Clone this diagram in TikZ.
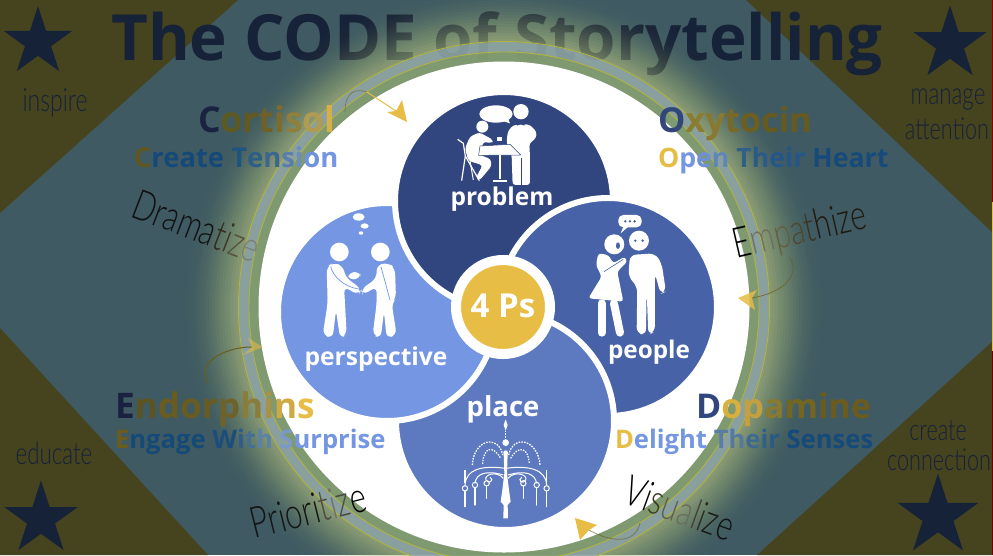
\documentclass[tikz,border=0pt]{standalone}
\usepackage{fontspec}
\setmainfont{Open Sans}
\newfontfamily\hand{Lato Light}[FakeStretch=0.72]
\usetikzlibrary{shapes.geometric}
\definecolor{teal0}{HTML}{3F5A62}
\definecolor{olive0}{HTML}{46431F}
\definecolor{cprob}{HTML}{31467F}
\definecolor{cpeop}{HTML}{4762A7}
\definecolor{cplac}{HTML}{5D7AC0}
\definecolor{cpers}{HTML}{7496E3}
\definecolor{cgold}{HTML}{E7BD45}
\definecolor{navyd}{HTML}{162238}
\definecolor{golddk}{HTML}{6B5C1E}
\definecolor{bluedk}{HTML}{164A7A}
\definecolor{ringg}{HTML}{8BA3AB}
\definecolor{ringgr}{HTML}{7F9A70}
\definecolor{ringy}{HTML}{B0B440}
\definecolor{glowc}{HTML}{B4C488}
\newcommand{\cw}[2]{\textcolor[HTML]{#1}{#2}}
\tikzset{
  titlefont/.style={font=\bfseries\fontsize{63.7}{63.7}\selectfont},
  headtxt/.style={font=\bfseries\fontsize{#1}{#1}\selectfont,anchor=base west,inner sep=0pt,outer sep=0pt},
  handtxt/.style={font=\hand\fontsize{#1}{#1}\selectfont,inner sep=0pt},
  pcircle/.style={circle,fill=#1,draw=white,line width=6pt,minimum size=218pt,inner sep=0pt,outer sep=0pt},
  plabel/.style={text=white,font=\bfseries\fontsize{#1}{#1}\selectfont,anchor=base,inner sep=0pt},
  starnode/.style={star,star points=5,star point ratio=2.618,fill=navyd,draw=none,inner sep=0pt,minimum size=#1},
  limb/.style={draw=white,line cap=round,line join=round,line width=#1},
  gtail/.style={draw=#1,line width=.8pt,line cap=round},
}
\begin{document}
\begin{tikzpicture}[x=1pt,y=-1pt]
\useasboundingbox (0,0) rectangle (993,555);
\fill[teal0] (0,0) rectangle (993,555);
\fill[olive0] (0,0) -- (238,0) -- (0,213) -- cycle;
\fill[olive0] (746,0) -- (993,0) -- (993,233) -- cycle;
\fill[olive0] (0,328) -- (208,555) -- (0,555) -- cycle;
\fill[olive0] (993,341) -- (993,555) -- (757,555) -- cycle;
\fill[red!55!black] (992,0) rectangle (993,202);
\fill[cgold] (992,202) rectangle (993,351);
\fill[red!45!black] (992,351) rectangle (993,555);
\coordinate (ctr) at (504,307);
% glow below the title
\foreach \r in {334,331,...,266} {
  \pgfmathsetmacro{\al}{0.32*(0.005+0.125*((334-\r)/68)^1.6)}
  \fill[glowc,opacity=\al] (ctr) circle[radius=\r];
}
\node[starnode=72pt] (star1) at (38,42) {};
\node[starnode=77pt] (star2) at (950,44) {};
\node[starnode=77pt] (star3) at (41,519) {};
\node[starnode=85pt] (star4) at (938,516) {};
\node[titlefont,anchor=base west,inner sep=0pt,text=navyd] (title) at (111,60) {The CODE of Storytelling};
\node[handtxt=32,text=navyd] (w1) at (55,103) {inspire};
\node[handtxt=31,text=navyd] (w2) at (948,100) {manage};
\node[handtxt=30,text=navyd] (w3) at (947,129) {attention};
\node[handtxt=31,text=navyd] (w4) at (54,453) {educate};
\node[handtxt=30,text=navyd] (w5) at (938,431) {create};
\node[handtxt=30,text=navyd] (w6) at (939,460) {connection};
% glow above the title
\foreach \r in {334,331,...,266} {
  \pgfmathsetmacro{\al}{0.68*(0.005+0.125*((334-\r)/68)^1.6)}
  \fill[glowc,opacity=\al] (ctr) circle[radius=\r];
}
% rings
\fill[ringg,opacity=.78,even odd rule] (ctr) circle[radius=265] (ctr) circle[radius=255];
\fill[ringgr,opacity=.9,even odd rule] (ctr) circle[radius=255] (ctr) circle[radius=245];
\draw[ringy,line width=.9pt] (ctr) circle[radius=265.5];
\draw[ringy,line width=.9pt] (ctr) circle[radius=255];
\fill[white] (ctr) circle[radius=245.5];
% circles
\node[pcircle=cpeop] (people) at (608,307) {};
\node[pcircle=cplac] (place) at (505,421) {};
\node[pcircle=cpers] (persp) at (387,312) {};
\node[pcircle=cprob] (problem) at (504,201) {};
\begin{scope}
\clip (problem.center) circle[radius=114];
\node[pcircle=cpeop] (people2) at (608,307) {};
\end{scope}
\node[circle,fill=cgold,draw=white,line width=10pt,minimum size=94pt,inner sep=0pt,outer sep=0pt] (core) at (503,307) {};
% headings, letter by letter from the dark field into the clear disc
\node[headtxt=35.6] (cort) at (198,132) {\cw{1A2440}{C}\cw{5C5A20}{o}\cw{64591F}{r}\cw{6E6028}{t}\cw{7D6C2E}{i}\cw{8F7F3C}{s}\cw{B19A52}{o}\cw{D5B04A}{l}};
\node[headtxt=27.4] (crea) at (134,167) {\cw{5F5620}{C}\cw{154A78}{reate }\cw{1F5480}{T}\cw{2C5E88}{e}\cw{3A6690}{n}\cw{587FA9}{s}\cw{6A8CC0}{i}\cw{6F93D8}{o}\cw{7496E3}{n}};
\node[headtxt=34.4] (oxyt) at (658,132) {\cw{33467A}{O}\cw{8A7C30}{x}\cw{8A7830}{y}\cw{7A6826}{t}\cw{6E5F20}{o}\cw{675A1E}{cin}};
\node[headtxt=26.7] (open) at (658,167) {\cw{E7BD45}{O}\cw{7496E3}{p}\cw{6E90D8}{e}\cw{5F86B8}{n }\cw{2F6088}{T}\cw{2A5A88}{h}\cw{25568A}{eir }\cw{164A7A}{Heart}};
\node[headtxt=35.2] (endo) at (115,418) {\cw{1A2240}{E}\cw{5C5420}{n}\cw{6A5C20}{dor}\cw{6F6228}{p}\cw{8A7C3A}{h}\cw{A8924A}{i}\cw{CFA945}{n}\cw{E7BD45}{s}};
\node[headtxt=25.6] (enga) at (115,448) {\cw{6B5C1E}{E}\cw{154A78}{ngage }\cw{1B4E7C}{W}\cw{2D5D88}{i}\cw{456F95}{t}\cw{5A82A8}{h }\cw{7A98C8}{S}\cw{7496E3}{urprise}};
\node[headtxt=34.1] (dopa) at (696,418) {\cw{31467F}{D}\cw{D8B03E}{o}\cw{C4A040}{p}\cw{8A7A30}{a}\cw{74661F}{m}\cw{6B5C1E}{ine}};
\node[headtxt=25.6] (deli) at (615,448) {\cw{E7BD45}{D}\cw{7496E3}{elight }\cw{5A7DA8}{T}\cw{54789E}{h}\cw{3F6A90}{e}\cw{2F6088}{i}\cw{2A5A84}{r }\cw{164A7A}{Senses}};
% handwritten words, letter by letter across the ring
\node[handtxt=42,rotate=-21] (dram) at (197,226) {\cw{111111}{Drama}\cw{33281A}{t}\cw{3C3520}{i}\cw{55503A}{z}\cw{7B7F78}{e}};
\node[handtxt=42,rotate=13] (empa) at (800,232) {\cw{000000}{E}\cw{6F6F60}{m}\cw{62603E}{p}\cw{4D4730}{a}\cw{3A3524}{t}\cw{1F1A10}{hize}};
\node[handtxt=43,rotate=14] (prio) at (308,510) {\cw{151515}{Priori}\cw{4C4C40}{t}\cw{70706A}{i}\cw{4A4A44}{z}\cw{000000}{e}};
\node[handtxt=42,rotate=-20] (visu) at (680,508) {\cw{000000}{Vi}\cw{3A3A20}{s}\cw{5F6050}{u}\cw{6B6B60}{a}\cw{454038}{l}\cw{2F2A20}{i}\cw{1A1A16}{z}\cw{111111}{e}};
\node[plabel=24.5] (lprob) at (502,205) {problem};
\node[plabel=24.3] (lpeop) at (649,358) {people};
\node[plabel=24.6] (lpers) at (376,365) {perspective};
\node[plabel=27.5] (lplac) at (503,416) {place};
\node[plabel=33] (l4ps) at (503,317) {4 Ps};
% arrows
\coordinate (a1s) at (345,112); \coordinate (a1m) at (367,92); \coordinate (a1n) at (396,111); \coordinate (a1t) at (407,122); \coordinate (a1b) at (402,100); \coordinate (a1c) at (387,112);
\draw[gtail=golddk,opacity=.5] (a1s) .. controls (345,92) and (355,88) .. (a1m);
\draw[gtail=cgold,line width=1pt] (a1m) -- (a1n);
\fill[cgold] (a1t) -- (a1b) -- (a1n) -- (a1c) -- cycle;
\coordinate (a2s) at (790,258); \coordinate (a2n) at (752,298); \coordinate (a2t) at (738,298); \coordinate (a2b) at (757,290); \coordinate (a2c) at (755,310);
\draw[gtail=golddk,opacity=.7] (a2s) .. controls (800,275) and (785,292) .. (a2n);
\fill[cgold,opacity=.85] (a2t) -- (a2b) -- (a2n) -- (a2c) -- cycle;
\coordinate (a3s) at (640,523); \coordinate (a3n) at (589,530); \coordinate (a3t) at (575,518); \coordinate (a3b) at (597,525); \coordinate (a3c) at (580,540);
\draw[gtail=golddk,opacity=.6] (a3s) .. controls (635,545) and (610,542) .. (a3n);
\fill[cgold] (a3t) -- (a3b) -- (a3n) -- (a3c) -- cycle;
\coordinate (a4s) at (208,383); \coordinate (a4n) at (252,347); \coordinate (a4t) at (263,347); \coordinate (a4b) at (248,338); \coordinate (a4c) at (243,355);
\draw[gtail=golddk,line width=1pt] (a4s) .. controls (195,365) and (222,347) .. (a4n);
\fill[cgold,opacity=.55] (a4t) -- (a4b) -- (a4n) -- (a4c) -- cycle;
% icons
\begin{scope}[shift={(280,90)},x=.3333pt,y=-.3333pt]
% problem
\fill[white] (648,72) ellipse[x radius=50,y radius=26];
\fill[white] (665,92) -- (690,100) -- (684,85) -- cycle;
\fill[white] (723,65) circle[radius=23];
\fill[white,rounded corners=3pt] (683,125) -- (700,105) -- (748,103) -- (770,125) -- (768,145) -- (748,160) -- (750,200) -- (750,285) -- (698,285) -- (695,195) -- (680,160) -- cycle;
\draw[cprob,line width=.7pt] (724,205) -- (724,288);
\fill[cprob] (711,95) -- (722,100) -- (733,95) -- (733,107) -- (722,102) -- (711,107) -- cycle;
\fill[white] (607,110) circle[radius=18];
\fill[white,rounded corners=3pt] (598,127) -- (640,150) -- (635,160) -- (610,155) -- (600,195) -- (632,207) -- (635,228) -- (598,272) -- (588,262) -- (608,226) -- (565,212) -- (555,175) -- (570,140) -- cycle;
\fill[white,draw=cprob,line width=.5pt] (600,168) -- (690,163) -- (722,195) -- (596,196) -- cycle;
\draw[white,line width=2.6pt] (660,196) -- (660,268);
\draw[white,line width=1.8pt] (638,272) -- (680,272);
\fill[white] (650,140) rectangle (666,154);
\draw[white,line width=1.2pt] (533,148) -- (550,160) -- (556,198) -- (545,272);
\draw[white,line width=1.2pt] (556,198) -- (598,272);
\draw[white,line width=1pt] (570,212) -- (580,270);
% perspective
\fill[white] (236,381) ellipse[x radius=18,y radius=11];
\fill[white] (254,408) ellipse[x radius=12,y radius=8];
\fill[white] (243,429) ellipse[x radius=7,y radius=5];
\fill[white] (178,486) circle[radius=28];
\fill[white] (301,486) circle[radius=28];
\fill[white,rounded corners=6pt] (140,530) -- (160,518) -- (190,528) -- (195,560) -- (245,598) -- (235,615) -- (192,590) -- (195,640) -- (200,735) -- (180,745) -- (168,660) -- (158,745) -- (128,735) -- (143,640) -- cycle;
\fill[white,rounded corners=5pt] (205,548) -- (240,545) -- (242,565) -- (205,570) -- cycle;
\fill[white,rounded corners=6pt] (290,525) -- (325,518) -- (345,535) -- (348,625) -- (335,640) -- (350,735) -- (320,745) -- (312,665) -- (302,745) -- (278,735) -- (290,640) -- (290,590) -- (248,615) -- (243,598) -- (290,565) -- cycle;
\draw[cpers,line width=.7pt] (152,530) .. controls (160,560) and (190,590) .. (240,598);
\draw[cpers,line width=.7pt] (303,530) -- (330,630);
% people
\fill[white,rounded corners=5pt] (1015,375) rectangle (1085,412);
\fill[white] (1030,410) -- (1022,430) -- (1045,410) -- cycle;
\foreach \dx in {1036,1050,1064} {\fill[cpeop] (\dx,394) circle[radius=4];}
\fill[white] (1003,463) circle[radius=30];
\fill[white] (1077,452) circle[radius=30];
\fill[cpeop] (1014,467) ellipse[x radius=6,y radius=10];
\fill[cpeop] (1066,452) circle[radius=4];
\fill[cpeop] (1088,452) circle[radius=4];
\fill[white,rounded corners=3pt] (955,490) -- (985,495) -- (1000,520) -- (1035,500) -- (1042,515) -- (1012,545) -- (1030,635) -- (925,625) -- (965,560) -- (948,525) -- cycle;
\draw[cpeop,line width=.6pt] (972,545) -- (1030,508);
\draw[limb=8pt] (965,640) -- (965,728);
\draw[limb=8pt] (1002,640) -- (1020,728);
\fill[white,rounded corners=6pt] (1050,495) -- (1125,490) -- (1145,520) -- (1158,605) -- (1142,612) -- (1125,550) -- (1125,725) -- (1105,735) -- (1100,600) -- (1098,735) -- (1070,730) -- (1072,590) -- (1045,560) -- cycle;
\end{scope}
% place
\begin{scope}[shift={(440,390)},x=.3333pt,y=-.3333pt]
\fill[white] (197,88) -- (203,105) -- (197,122) -- (191,105) -- cycle;
\fill[white] (197,158) circle[radius=10];
\fill[white] (197,188) circle[radius=7];
\draw[white,line width=1pt,dash pattern=on 1.5pt off 1.2pt] (197,122) -- (197,148);
\draw[white,line width=1.3pt,dash pattern=on 1.6pt off 1.2pt] (97,225) .. controls (100,150) and (175,130) .. (188,195);
\draw[white,line width=1.3pt,dash pattern=on 1.6pt off 1.2pt] (206,195) .. controls (220,130) and (295,150) .. (300,225);
\draw[white,line width=1.2pt,dash pattern=on 1.5pt off 1.2pt] (128,222) .. controls (130,170) and (160,165) .. (182,205);
\draw[white,line width=1.2pt,dash pattern=on 1.5pt off 1.2pt] (212,205) .. controls (235,165) and (265,170) .. (268,222);
\draw[white,line width=1pt] (75,285) .. controls (78,240) and (120,225) .. (197,235) .. controls (270,225) and (318,240) .. (320,285);
\draw[white,line width=1pt] (105,280) .. controls (108,250) and (140,240) .. (190,255);
\draw[white,line width=1pt] (290,280) .. controls (285,250) and (255,240) .. (204,255);
\draw[white,line width=1pt] (190,265) .. controls (170,240) and (130,255) .. (138,270) .. controls (145,285) and (165,270) .. (150,262);
\draw[white,line width=1pt] (204,265) .. controls (225,240) and (265,255) .. (257,270) .. controls (250,285) and (230,270) .. (245,262);
\fill[white] (191,190) -- (203,190) -- (201,250) -- (207,300) -- (212,335) -- (203,345) -- (204,385) -- (190,385) -- (191,345) -- (182,335) -- (187,300) -- (193,250) -- cycle;
\foreach \xx/\yy/\ll in {75/295/350,105/285/345,140/280/325,250/280/325,290/285/345,320/295/350} {
  \draw[white,line width=1pt] (\xx,\yy) circle[radius=8];
  \draw[white,line width=1.2pt,line cap=round] (\xx,\yy+8) -- (\xx,\ll);
}
\foreach \xx in {75,320} {\draw[white,line width=1.2pt] (\xx,240) -- (\xx,280);}
\end{scope}
\end{tikzpicture}
\end{document}
